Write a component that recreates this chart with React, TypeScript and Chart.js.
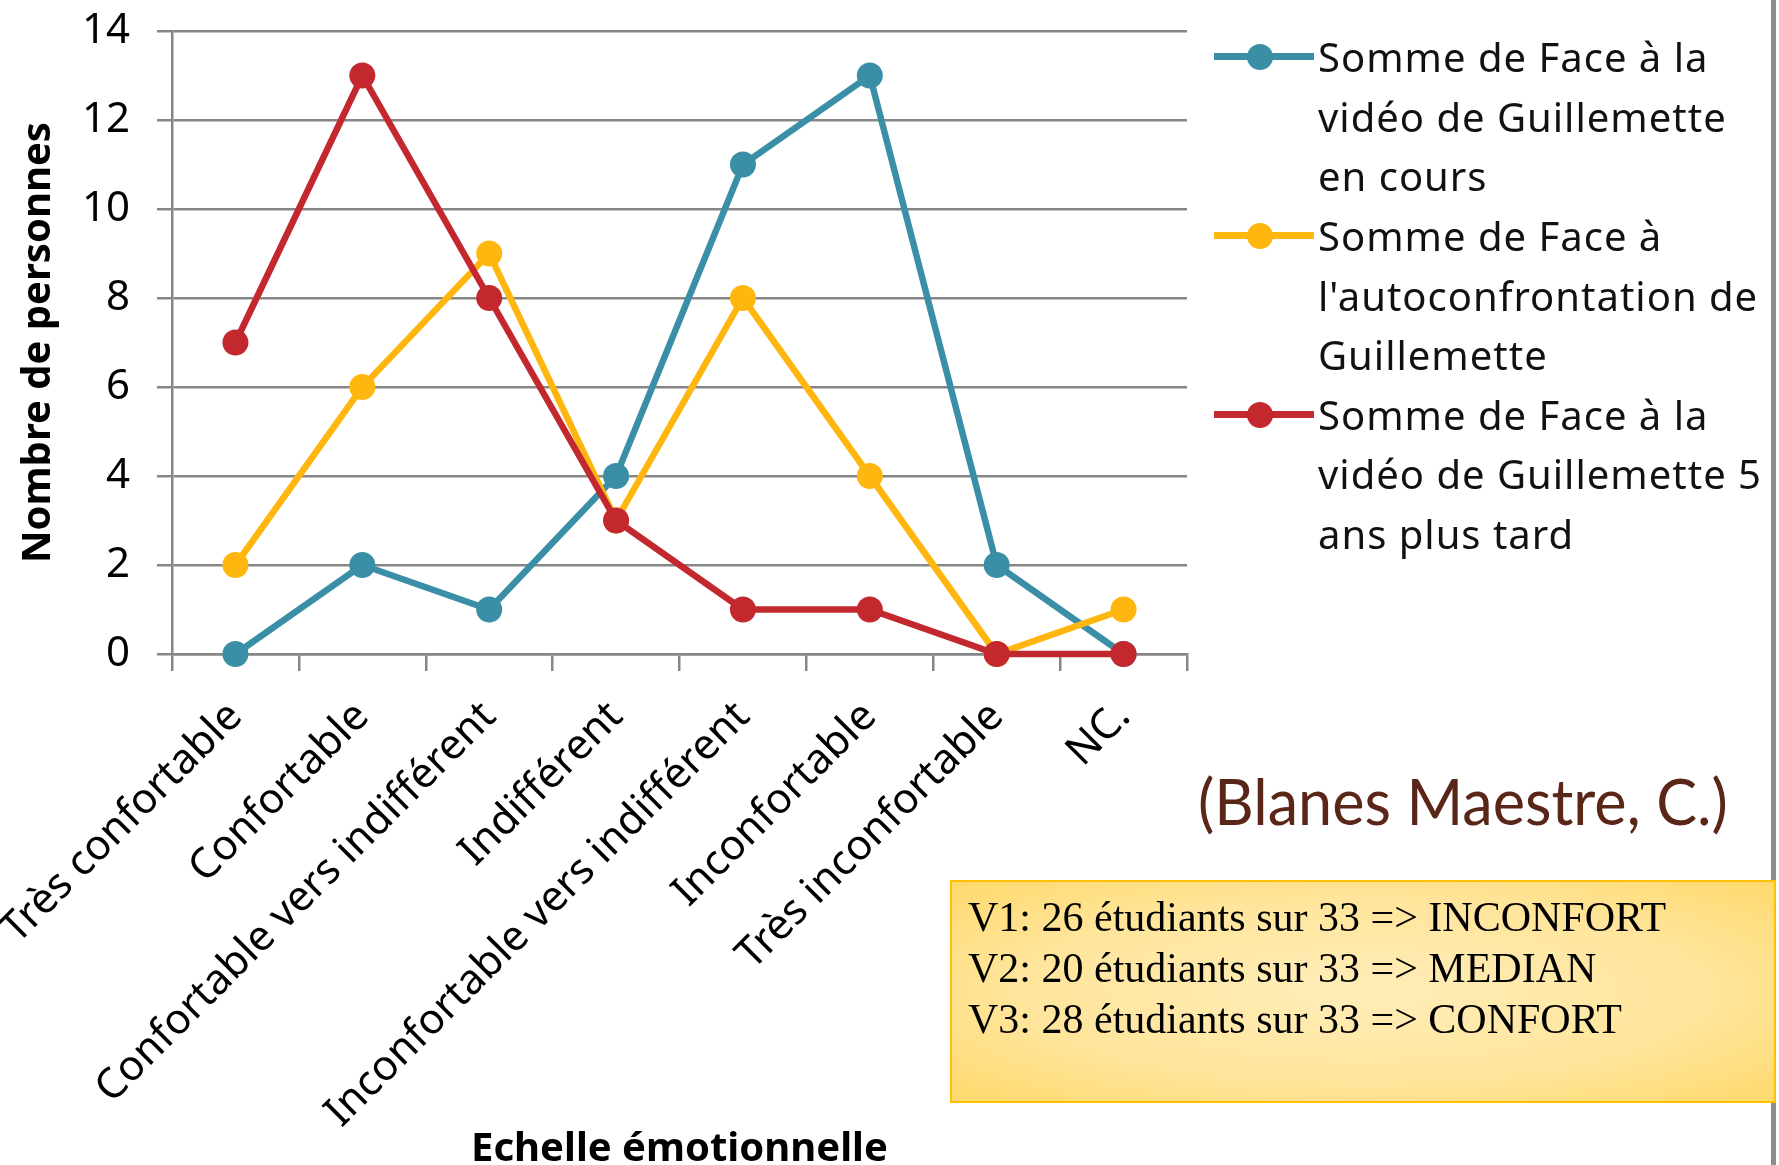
import React, { useEffect, useRef } from 'react';
import { Chart, registerables } from 'chart.js';

Chart.register(...registerables);

// ---- data ----
const categories = [
  'Très confortable',
  'Confortable',
  'Confortable vers indifférent',
  'Indifférent',
  'Inconfortable vers indifférent',
  'Inconfortable',
  'Très inconfortable',
  'NC.',
];
const videoEnCours = [0, 2, 1, 4, 11, 13, 2, 0];
const autoconfrontation = [2, 6, 9, 3, 8, 4, 0, 1];
const videoCinqAns = [7, 13, 8, 3, 1, 1, 0, 0];

const seriesLabels = [
  ['Somme de Face à la', 'vidéo de Guillemette', 'en cours'],
  ['Somme de Face à', "l'autoconfrontation de", 'Guillemette'],
  ['Somme de Face à la', 'vidéo de Guillemette 5', 'ans plus tard'],
];
const seriesColors = ['#3A8FA6', '#FFB60F', '#C3282E'];

const yMin = 0;
const yMax = 14;
const yStep = 2;
const yTitle = 'Nombre de personnes';
const xTitle = 'Echelle émotionnelle';
const sourceNote = '(Blanes Maestre, C.)';
const summaryLines = [
  'V1: 26 étudiants sur 33 => INCONFORT',
  'V2: 20 étudiants sur 33 => MEDIAN',
  'V3: 28 étudiants sur 33 => CONFORT',
];

// ---- layout constants ----
const W = 1779;
const H = 1165;
const AREA_LEFT = 172;
const AREA_RIGHT = 1187;
const AREA_TOP = 31;
const AREA_BOTTOM = 654;
const GRID = '#868686';
const FONT = "'Noto Sans', sans-serif";

function Legend() {
  const lh = 59.6;
  return (
    <div style={{ position: 'absolute', left: 1214, top: 57 - lh / 2, fontFamily: FONT, fontSize: 40, letterSpacing: '1px', color: '#111', lineHeight: `${lh}px` }}>
      {seriesLabels.map((lines, i) => (
        <div key={i} style={{ position: 'relative', paddingLeft: 104 }}>
          <div style={{ position: 'absolute', left: 0, top: lh / 2 - 3.5, width: 100, height: 7, background: seriesColors[i] }} />
          <div style={{ position: 'absolute', left: 33, top: lh / 2 - 13, width: 26, height: 26, borderRadius: '50%', background: seriesColors[i] }} />
          {lines.map((t, j) => (
            <div key={j} style={{ whiteSpace: 'nowrap' }}>{t}</div>
          ))}
        </div>
      ))}
    </div>
  );
}

export default function App() {
  const canvasRef = useRef<HTMLCanvasElement | null>(null);

  useEffect(() => {
    if (!canvasRef.current) return;
    const series = [videoEnCours, autoconfrontation, videoCinqAns];
    const chart = new Chart(canvasRef.current, {
      type: 'line',
      data: {
        labels: categories,
        datasets: series.map((d, i) => ({
          label: seriesLabels[i].join(' '),
          data: d,
          borderColor: seriesColors[i],
          backgroundColor: seriesColors[i],
          pointBackgroundColor: seriesColors[i],
          pointBorderColor: seriesColors[i],
          pointBorderWidth: 0,
          pointRadius: 13,
          borderWidth: 6.5,
          tension: 0,
          clip: false as any,
          order: 3 - i,
        })),
      },
      options: {
        animation: false,
        responsive: false,
        devicePixelRatio: 1,
        layout: { padding: { top: AREA_TOP, right: W - AREA_RIGHT, bottom: 0, left: 0 } },
        plugins: { legend: { display: false }, tooltip: { enabled: false } },
        scales: {
          x: {
            type: 'category',
            offset: true,
            grid: {
              offset: true,
              drawOnChartArea: false,
              drawTicks: true,
              tickLength: 17,
              color: GRID,
              lineWidth: 2.5,
            },
            border: { display: true, color: GRID, width: 2.5 },
            ticks: {
              autoSkip: false,
              minRotation: 45,
              maxRotation: 45,
              color: '#000',
              padding: 21,
              font: { family: FONT, size: 42 },
            },
            title: {
              display: true,
              text: xTitle,
              color: '#000',
              font: { family: FONT, size: 40, weight: 'bold', lineHeight: 0.7 },
              padding: { top: 0, bottom: 1 },
            },
            afterFit: (scale: any) => {
              scale.height = H - AREA_BOTTOM;
              scale.paddingLeft = 0;
              scale.paddingRight = 0;
            },
          },
          y: {
            min: yMin,
            max: yMax,
            ticks: {
              stepSize: yStep,
              color: '#000',
              padding: 27,
              font: { family: FONT, size: 42 },
            },
            grid: { color: GRID, lineWidth: 2.5, tickLength: 15 },
            border: { display: true, color: GRID, width: 2.5 },
            title: {
              display: true,
              text: yTitle,
              color: '#000',
              font: { family: FONT, size: 40, weight: 'bold', lineHeight: 1.2 },
              padding: { top: 15, bottom: 0 },
            },
            afterFit: (scale: any) => {
              scale.width = AREA_LEFT;
              scale.paddingTop = 0;
              scale.paddingBottom = 0;
            },
          },
        },
      },
    });
    return () => chart.destroy();
  }, []);

  return (
    <div style={{ position: 'absolute', left: 0, top: 0, width: W, height: H, overflow: 'hidden', background: '#fff' }}>
      <canvas ref={canvasRef} width={W} height={H} style={{ position: 'absolute', left: 0, top: 0, width: W, height: H }} />
      <div style={{ position: 'absolute', left: 1771, top: 0, width: 5, height: H, background: '#8C8C8C' }} />
      <Legend />
      <div style={{ position: 'absolute', left: 1198, top: 769, fontFamily: "'Lato', sans-serif", fontSize: 64, lineHeight: '64px', color: '#5A2617', whiteSpace: 'nowrap', transform: 'scaleX(0.955)', transformOrigin: 'left center' }}>
        {sourceNote}
      </div>
      <div
        style={{
          position: 'absolute',
          left: 950,
          top: 880,
          width: 826,
          height: 223,
          boxSizing: 'border-box',
          border: '2px solid #FFC000',
          background: 'radial-gradient(ellipse at center, #FFEDB9 0%, #FFE59B 60%, #FFD96C 100%)',
          paddingLeft: 16,
          paddingTop: 10,
          fontFamily: "'Liberation Serif', 'Times New Roman', serif",
          fontSize: 42,
          lineHeight: '51px',
          color: '#000',
        }}
      >
        {summaryLines.map((t, i) => (
          <div key={i} style={{ whiteSpace: 'nowrap' }}>{t}</div>
        ))}
      </div>
    </div>
  );
}
